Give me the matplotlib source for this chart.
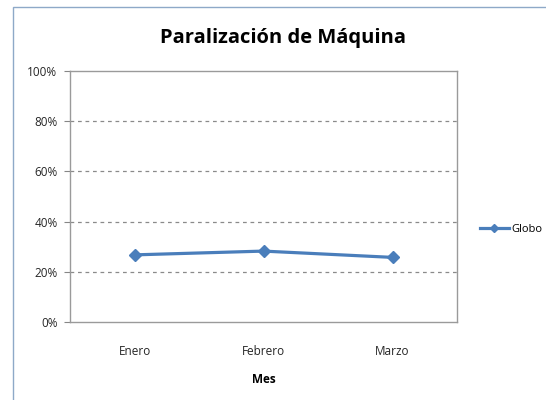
import matplotlib.pyplot as plt
from matplotlib.lines import Line2D
from matplotlib.patches import Rectangle

meses = ["Enero", "Febrero", "Marzo"]
globo = [0.268, 0.283, 0.258]
yticks = [0, 0.2, 0.4, 0.6, 0.8, 1.0]
ytick_labels = ["0%", "20%", "40%", "60%", "80%", "100%"]

plt.rcParams['font.family'] = ['Open Sans', 'DejaVu Sans']

fig = plt.figure(figsize=(5.46, 4.0), dpi=100)
W, H = 546, 400

# outer chart frame (cut by the screenshot on the right and bottom)
fig.patches.append(Rectangle((13 / W, -0.1), 1.2, 1 - 7 / H + 0.1,
                             transform=fig.transFigure, fill=False,
                             edgecolor='#8EA9C8', lw=1.0))

ax = fig.add_axes([70 / W, 1 - 322.3 / H, (457 - 70) / W, (322.3 - 70.7) / H])
x = range(len(meses))
ax.plot(x, globo, color='#4A7EBB', lw=2.3, marker='D', ms=6.5,
        markeredgecolor='#4A7EBB', solid_joinstyle='round')

ax.set_xlim(-0.5, 2.5)
ax.set_ylim(0, 1)
ax.set_yticks(yticks)
ax.set_yticklabels(ytick_labels)
ax.set_xticks(list(x))
ax.set_xticklabels(meses)
ax.tick_params(axis='y', length=4, color='#868686', labelsize=8.5,
               labelcolor='#262626', pad=5)
ax.tick_params(axis='x', length=0, labelsize=8.5, labelcolor='#262626', pad=16)
for g in yticks[1:-1]:
    ax.axhline(g, color='#8a8a8a', lw=0.9, ls=(0, (3, 3)), zorder=0)
for s in ax.spines.values():
    s.set_color('#9a9a9a')
    s.set_linewidth(1.0)

ax.set_xlabel("Mes", fontsize=8.5, fontweight='bold', labelpad=11)
fig.text(283 / W, 1 - 38 / H, "Paralización de Máquina", ha='center',
         va='center', fontsize=14.5, fontweight='bold')

handle = Line2D([], [], color='#4A7EBB', lw=2.3, marker='D', ms=4)
fig.legend([handle], ["Globo"], loc='center left',
           bbox_to_anchor=(470 / W, 1 - 229 / H), frameon=False,
           fontsize=8, handlelength=2.6, handletextpad=0.2)

fig.savefig("out.png", dpi=100)
